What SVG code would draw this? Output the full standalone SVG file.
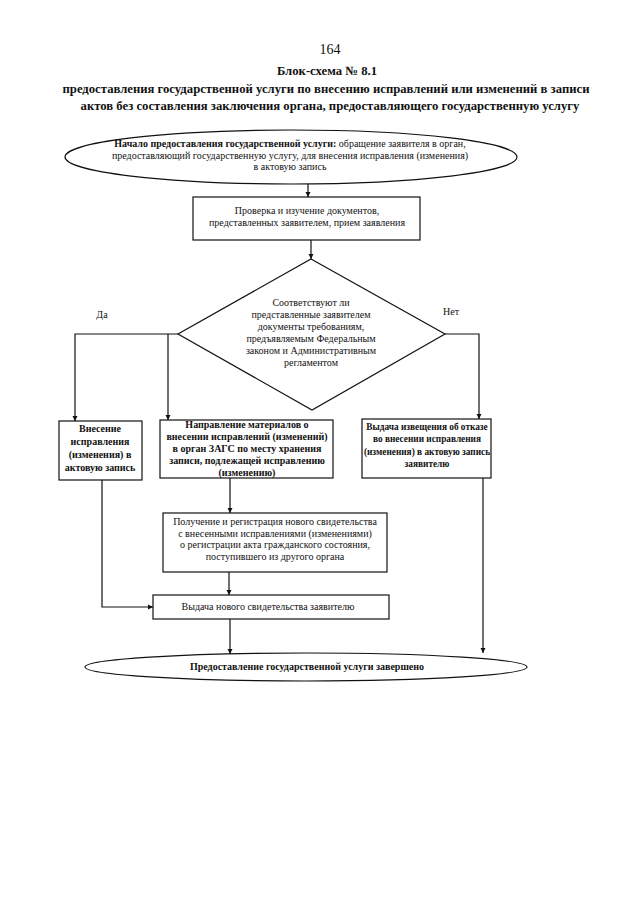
<svg xmlns="http://www.w3.org/2000/svg" width="640" height="905" viewBox="0 0 640 905">
<defs>
<marker id="ah" viewBox="0 0 10 10" refX="10" refY="5" markerWidth="5" markerHeight="7" orient="auto" markerUnits="userSpaceOnUse">
<path d="M0,0 L10,5 L0,10 z" fill="#111"/>
</marker>
<style>
.t{font-family:"Liberation Serif","Times New Roman",serif;font-size:10px;fill:#111;text-anchor:middle}
.b{font-weight:bold}
.r{font-size:9.3px}
.h{font-family:"Liberation Serif","Times New Roman",serif;font-weight:bold;font-size:12.7px;fill:#111;text-anchor:middle}
.s{fill:#fff;stroke:#111;stroke-width:1.2}
.c{fill:none;stroke:#111;stroke-width:1.2}
</style>
</defs>
<rect width="640" height="905" fill="#fff"/>
<g id="header">
<text x="330" y="54" font-family="Liberation Serif, serif" font-size="14" fill="#111" text-anchor="middle">164</text>
<text class="h" x="327" y="75">Блок-схема № 8.1</text>
<text class="h" x="326" y="93">предоставления государственной услуги по внесению исправлений или изменений в записи</text>
<text class="h" x="330" y="110">актов без составления заключения органа, предоставляющего государственную услугу</text>
</g>
<g id="start">
<ellipse class="s" cx="291" cy="157" rx="226" ry="27"/>
<text class="t" x="290" y="147"><tspan class="b">Начало предоставления государственной услуги:</tspan> обращение заявителя в орган,</text>
<text class="t" x="290" y="159">предоставляющий государственную услугу, для внесения исправления (изменения)</text>
<text class="t" x="290" y="170">в актовую запись</text>
</g>
<g id="check">
<rect class="s" x="193" y="197" width="227" height="43"/>
<text class="t" x="307" y="214">Проверка и изучение документов,</text>
<text class="t" x="307" y="226">представленных заявителем, прием заявления</text>
</g>
<g id="decision">
<polygon class="s" points="311,259 445,334 312,410 178,334"/>
<text class="t" x="311" y="306">Соответствуют ли</text>
<text class="t" x="311" y="318">представленные заявителем</text>
<text class="t" x="311" y="330">документы требованиям,</text>
<text class="t" x="311" y="342">предъявляемым Федеральным</text>
<text class="t" x="311" y="354">законом и Административным</text>
<text class="t" x="311" y="366">регламентом</text>
</g>
<g id="labels">
<text class="t" x="102" y="318" font-size="11">Да</text>
<text class="t" x="451" y="315" font-size="11">Нет</text>
</g>
<g id="correct">
<rect class="s" x="59" y="421" width="83" height="59"/>
<text class="t b" x="100" y="432">Внесение</text>
<text class="t b" x="100" y="445">исправления</text>
<text class="t b" x="100" y="458">(изменения) в</text>
<text class="t b" x="100" y="471">актовую запись</text>
</g>
<g id="send">
<rect class="s" x="160" y="420" width="173" height="58"/>
<text class="t b" x="247" y="428">Направление материалов о</text>
<text class="t b" x="247" y="440">внесении исправлений (изменений)</text>
<text class="t b" x="247" y="452">в орган ЗАГС по месту хранения</text>
<text class="t b" x="247" y="464">записи, подлежащей исправлению</text>
<text class="t b" x="247" y="476">(изменению)</text>
</g>
<g id="refuse">
<rect class="s" x="362" y="419" width="129" height="59"/>
<text class="t b r" x="427" y="430">Выдача извещения об отказе</text>
<text class="t b r" x="427" y="442">во внесении исправления</text>
<text class="t b r" x="427" y="455">(изменения) в актовую запись</text>
<text class="t b r" x="427" y="467">заявителю</text>
</g>
<g id="receive">
<rect class="s" x="163" y="513" width="224" height="59"/>
<text class="t" x="275" y="525">Получение и регистрация нового свидетельства</text>
<text class="t" x="275" y="537">с внесенными исправлениями (изменениями)</text>
<text class="t" x="275" y="548">о регистрации акта гражданского состояния,</text>
<text class="t" x="275" y="560">поступившего из другого органа</text>
</g>
<g id="issue">
<rect class="s" x="153" y="595" width="236" height="24"/>
<text class="t" x="268" y="610">Выдача нового свидетельства заявителю</text>
</g>
<g id="end">
<ellipse class="s" cx="306" cy="667" rx="221" ry="14"/>
<text class="t b" x="307" y="670">Предоставление государственной услуги завершено</text>
</g>
<g id="connectors">
<line class="c" x1="308" y1="184" x2="308" y2="197" marker-end="url(#ah)"/>
<line class="c" x1="311" y1="240" x2="311" y2="259" marker-end="url(#ah)"/>
<polyline class="c" points="178,334 75,334 75,421" marker-end="url(#ah)"/>
<line class="c" x1="168" y1="334" x2="168" y2="420" marker-end="url(#ah)"/>
<polyline class="c" points="445,334 479,334 479,419" marker-end="url(#ah)"/>
<line class="c" x1="230" y1="478" x2="230" y2="513" marker-end="url(#ah)"/>
<line class="c" x1="229" y1="572" x2="229" y2="595" marker-end="url(#ah)"/>
<polyline class="c" points="102,480 102,607 153,607" marker-end="url(#ah)"/>
<line class="c" x1="230" y1="619" x2="230" y2="654" marker-end="url(#ah)"/>
<line class="c" x1="483" y1="478" x2="483" y2="653" marker-end="url(#ah)"/>
</g>
</svg>
